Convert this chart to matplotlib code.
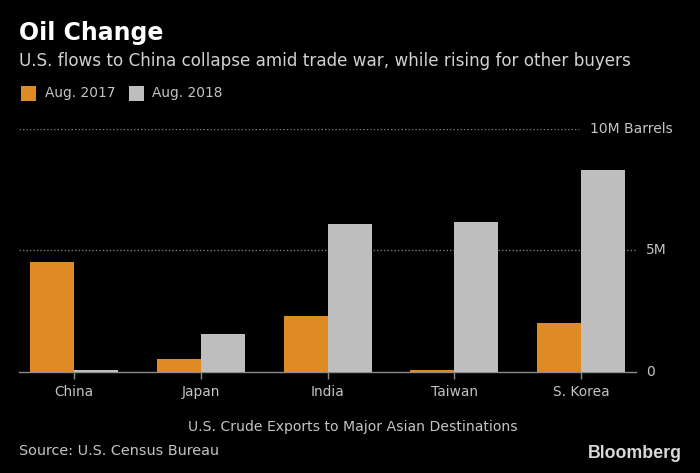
import matplotlib
matplotlib.use('Agg')
import matplotlib.pyplot as plt
from matplotlib.patches import Rectangle

countries = ["China", "Japan", "India", "Taiwan", "S. Korea"]
aug_2017 = [4.5, 0.53, 2.28, 0.06, 2.02]
aug_2018 = [0.06, 1.55, 6.07, 6.17, 8.29]
y_ticks = [0, 5, 10]
y_labels = ["0", "5M", "10M Barrels"]

W, H = 700, 473
ORANGE = '#de8b26'
GREY = '#bebebe'
TEXT = '#c4c4c4'
AXIS = '#8c8c8c'

plt.rcParams['font.family'] = ['DejaVu Sans']

fig = plt.figure(figsize=(W / 100, H / 100), dpi=100, facecolor='black')


def px(x, y):
    return x / W, 1 - y / H


def legend_box(x, y, size, color):
    # x, y is the top left corner in pixels
    fig.add_artist(Rectangle((x / W, 1 - (y + size) / H), size / W, size / H,
                             color=color, lw=0, transform=fig.transFigure))


# axes box in pixels: x 19-636, y 129-371.5
ax = fig.add_axes([19 / W, 1 - 371.5 / H, 617 / W, 242.5 / H], facecolor='black')
x_pos = list(range(len(countries)))
bar_w = 0.347
ax.bar([x - bar_w / 2 for x in x_pos], aug_2017, bar_w, color=ORANGE, zorder=3)
ax.bar([x + bar_w / 2 for x in x_pos], aug_2018, bar_w, color=GREY, zorder=3)
ax.set_xlim(-0.434, 4.432)
ax.set_ylim(0, 10)

for s in ['top', 'left', 'right']:
    ax.spines[s].set_visible(False)
ax.spines['bottom'].set_color(AXIS)
ax.spines['bottom'].set_linewidth(1.0)

ax.set_xticks(x_pos)
ax.set_xticklabels(countries, fontsize=9.9, color=TEXT)
ax.tick_params(axis='x', length=5, width=1, color=AXIS, pad=5)

ax.set_yticks(y_ticks)
ax.set_yticklabels([])
ax.tick_params(axis='y', length=0)
ax.axhline(5, color='#7a7a7a', lw=1, ls=(0, (1, 1.5)), zorder=1)
# the top gridline stops short of its label
ax.axhline(10, xmax=0.907, color='#7a7a7a', lw=1, ls=(0, (1, 1.5)), zorder=1)

# right side value labels
for t, lab in zip(y_ticks, y_labels):
    x_lab = 590 if t == 10 else 646
    fig.text(*px(x_lab, 371.5 - t * 24.25), lab, color=TEXT, fontsize=10, ha='left', va='center')

fig.text(*px(19, 33), "Oil Change", color='white', fontsize=17, fontweight='bold', ha='left', va='center')
fig.text(*px(19, 61.5), "U.S. flows to China collapse amid trade war, while rising for other buyers",
         color='#d2d2d2', fontsize=12.1, ha='left', va='center')

# legend
legend_box(21, 86, 15, ORANGE)
fig.text(*px(45, 93.5), "Aug. 2017", color=TEXT, fontsize=9.9, ha='left', va='center')
legend_box(128.5, 86, 15, GREY)
fig.text(*px(152, 93.5), "Aug. 2018", color=TEXT, fontsize=9.9, ha='left', va='center')

fig.text(*px(353, 426.5), "U.S. Crude Exports to Major Asian Destinations", color=TEXT, fontsize=10.1,
         ha='center', va='center')
fig.text(*px(19, 451), "Source: U.S. Census Bureau", color=TEXT, fontsize=10.4, ha='left', va='center')
fig.text(*px(682, 453), "Bloomberg", color='#d8d8d8', fontsize=12.8, fontweight='bold',
         family=['Liberation Sans'], ha='right', va='center')

fig.savefig('out.png', dpi=100, facecolor='black')
